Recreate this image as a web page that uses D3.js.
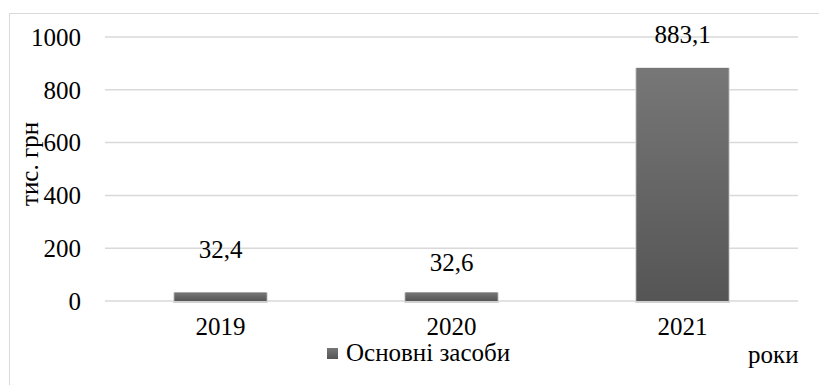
<!DOCTYPE html>
<html>
<head>
<meta charset="utf-8">
<script src="https://cdn.jsdelivr.net/npm/d3@7"></script>
</head>
<body style="margin:0;background:#fff">
<script>
let years = ['2019', '2020', '2021'],
    values = [32.4, 32.6, 883.1],
    valueLabels = ['32,4', '32,6', '883,1'],
    yTicks = [0, 200, 400, 600, 800, 1000],
    seriesName = 'Основні засоби',
    yTitle = 'тис. грн',
    xTitle = 'роки';

// label offsets above the bar tops (labels were moved by hand in the original)
let labelLift = [34, 21, 25];

let width = 819, height = 385,
    margin = {top: 37, right: 21, bottom: 84, left: 105},
    w = width - margin.left - margin.right,
    h = height - margin.top - margin.bottom;

let svg = d3.select('body').append('svg')
    .attr('width', width)
    .attr('height', height);

function label(sel) {
    return sel.style('font-family', 'Liberation Serif')
        .style('font-size', '25px')
        .style('fill', '#000');
}

let grad = svg.append('defs').append('linearGradient')
    .attr('id', 'barGrad')
    .attr('x1', 0).attr('y1', 0).attr('x2', 0).attr('y2', 1);
grad.append('stop').attr('offset', '0%').attr('stop-color', '#777777');
grad.append('stop').attr('offset', '100%').attr('stop-color', '#555555');

// outer frame
svg.append('rect')
    .attr('x', 9.5).attr('y', 13.5)
    .attr('width', 830).attr('height', 400)
    .attr('fill', 'none')
    .attr('stroke', '#d9d9d9');

let g = svg.append('g').attr('transform', 'translate(' + margin.left + ',' + margin.top + ')');

let x = d3.scaleBand()
    .domain(years)
    .range([0, w])
    .paddingInner(0.6)
    .paddingOuter(0.3);

let y = d3.scaleLinear()
    .domain([0, 1000])
    .range([h, 0]);

// gridlines
g.append('g')
    .selectAll('line')
    .data(yTicks)
    .enter().append('line')
    .attr('x1', 0).attr('x2', w)
    .attr('y1', d => y(d)).attr('y2', d => y(d))
    .attr('stroke', '#d9d9d9')
    .attr('stroke-width', 1.5);

// y axis labels
let yAxis = d3.axisLeft(y).tickValues(yTicks).tickFormat(d3.format('d')).tickSize(0).tickPadding(24);
g.append('g')
    .call(yAxis)
    .attr('font-family', null)
    .attr('font-size', null)
    .call(a => a.select('.domain').remove())
    .selectAll('text')
    .call(label)
    .attr('dy', '0.33em');

// bar shadow, then bars
g.selectAll('rect.shade')
    .data(values)
    .enter().append('rect')
    .attr('class', 'shade')
    .attr('x', (d, i) => x(years[i]) - 1)
    .attr('width', x.bandwidth() + 2)
    .attr('y', d => y(d))
    .attr('height', d => h - y(d) + 2)
    .attr('fill', '#d0d0d0');

g.selectAll('rect.bar')
    .data(values)
    .enter().append('rect')
    .attr('class', 'bar')
    .attr('x', (d, i) => x(years[i]))
    .attr('width', x.bandwidth())
    .attr('y', d => y(d))
    .attr('height', d => h - y(d))
    .attr('fill', 'url(#barGrad)');

// value labels
g.selectAll('text.val')
    .data(values)
    .enter().append('text')
    .attr('class', 'val')
    .attr('x', (d, i) => x(years[i]) + x.bandwidth() / 2)
    .attr('y', (d, i) => y(d) - labelLift[i])
    .attr('text-anchor', 'middle')
    .call(label)
    .text((d, i) => valueLabels[i]);

// x axis labels
let xAxis = d3.axisBottom(x).tickSize(0).tickPadding(16);
g.append('g')
    .attr('transform', 'translate(0,' + h + ')')
    .call(xAxis)
    .attr('font-family', null)
    .attr('font-size', null)
    .call(a => a.select('.domain').remove())
    .selectAll('text')
    .call(label)
    .attr('dy', '0.71em');

// y title
svg.append('text')
    .attr('transform', 'translate(38,164) rotate(-90)')
    .attr('text-anchor', 'middle')
    .call(label)
    .text(yTitle);

// x title
svg.append('text')
    .attr('x', 748)
    .attr('y', 363)
    .call(label)
    .text(xTitle);

// legend
let lg = svg.append('g').attr('transform', 'translate(327,348)');
lg.append('rect')
    .attr('width', 11).attr('height', 11)
    .attr('fill', 'url(#barGrad)');
lg.append('text')
    .attr('x', 19).attr('y', 13)
    .call(label)
    .text(seriesName);
</script>
</body>
</html>
